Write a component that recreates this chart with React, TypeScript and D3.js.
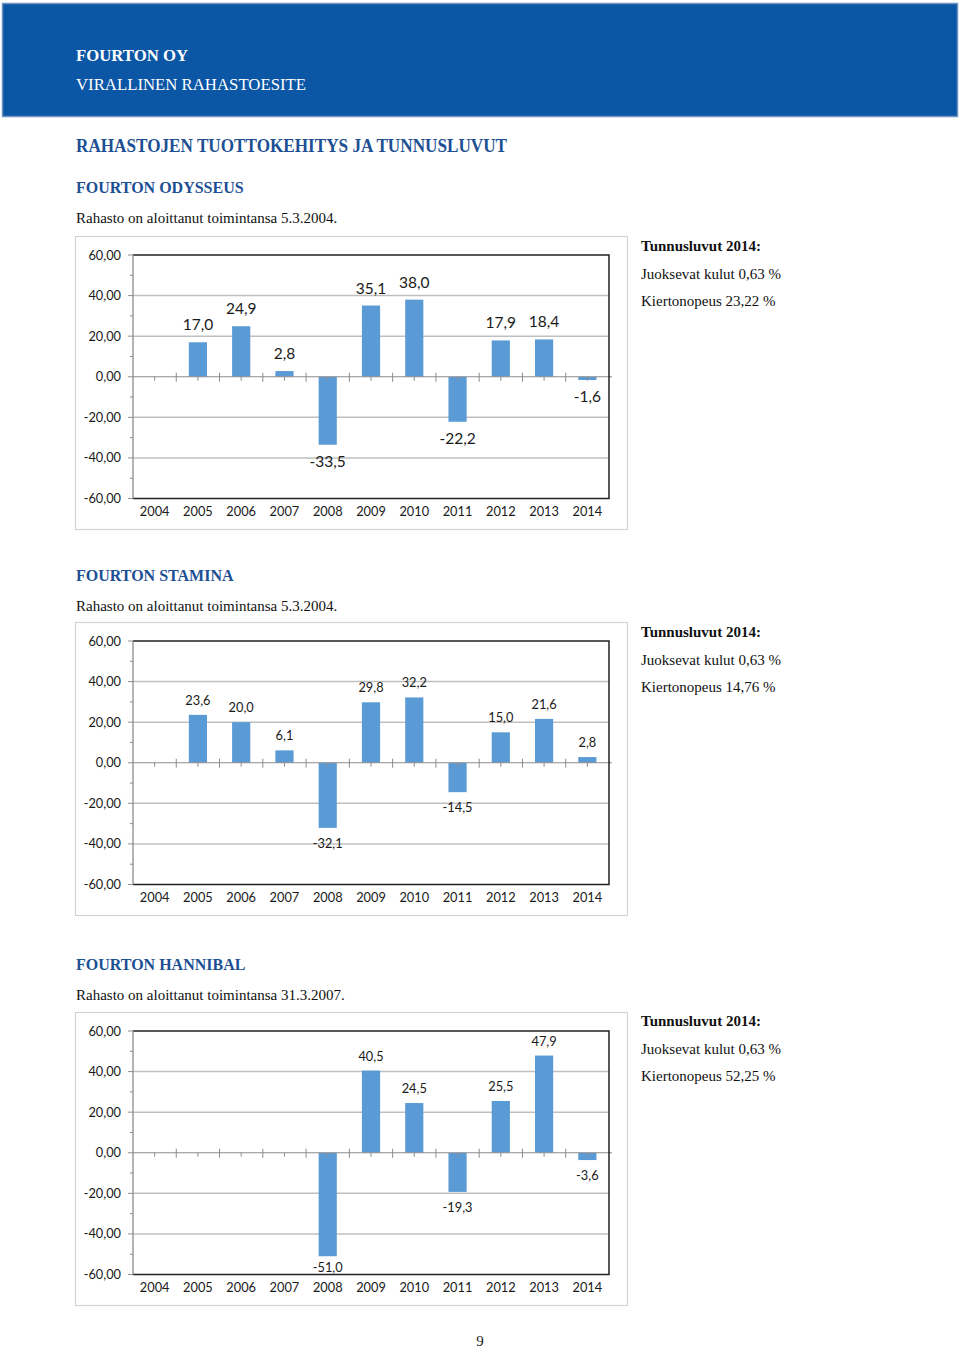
import React from 'react';
import * as d3 from 'd3';

const years = ['2004', '2005', '2006', '2007', '2008', '2009', '2010', '2011', '2012', '2013', '2014'];
const odysseusValues: (number | null)[] = [null, 17.0, 24.9, 2.8, -33.5, 35.1, 38.0, -22.2, 17.9, 18.4, -1.6];
const staminaValues: (number | null)[] = [null, 23.6, 20.0, 6.1, -32.1, 29.8, 32.2, -14.5, 15.0, 21.6, 2.8];
const hannibalValues: (number | null)[] = [null, null, null, null, -51.0, 40.5, 24.5, -19.3, 25.5, 47.9, -3.6];
const yTicks = [60, 40, 20, 0, -20, -40, -60];
const yMinorTicks = [50, 30, 10, -10, -30, -50];

const fundNames = ['FOURTON ODYSSEUS', 'FOURTON STAMINA', 'FOURTON HANNIBAL'];
const startDates = ['5.3.2004.', '5.3.2004.', '31.3.2007.'];
const runningCosts = ['0,63', '0,63', '0,63'];
const turnovers = ['23,22', '14,76', '52,25'];

const locale = d3.formatLocale({ decimal: ',', thousands: ' ', grouping: [3], currency: ['', ' €'], minus: '-' });
const fmtTick = locale.format('.2f');
const fmtVal = locale.format('.1f');

const BLUE = '#1c4f93';
const BAR = '#5b9bd5';
const SERIF = '"Liberation Serif", "Times New Roman", serif';
const SANS = 'Lato, Carlito, Calibri, "Noto Sans", sans-serif';

type ChartProps = {
  top: number;
  values: (number | null)[];
  labelSize: number;
  gapAbove: number;
  gapBelow: number;
};

function BarChart({ top, values, labelSize, gapAbove, gapBelow }: ChartProps) {
  const frameX = 75, frameW = 552, frameH = 293;
  const plotL = 133, plotR = 609;
  const plotT = top + 19, plotB = top + 262.5;
  const x = d3.scaleBand<string>().domain(years).range([plotL, plotR]).paddingInner(0.58).paddingOuter(0.29);
  const y = d3.scaleLinear().domain([-60, 60]).range([plotB, plotT]);
  const step = (plotR - plotL) / years.length;
  const y0 = y(0);
  return (
    <g>
      <rect x={frameX + 0.5} y={top + 0.5} width={frameW} height={frameH} fill="#fff" stroke="#d4d4d4" strokeWidth={1.2} />
      {yTicks.filter(t => t !== 0 && t !== 60 && t !== -60).map(t => (
        <line key={'g' + t} x1={plotL} x2={plotR} y1={y(t)} y2={y(t)} stroke="#bfbfbf" strokeWidth={1.5} />
      ))}
      {yTicks.map(t => (
        <line key={'mt' + t} x1={plotL - 5} x2={plotL} y1={y(t)} y2={y(t)} stroke="#8c8c8c" strokeWidth={1} />
      ))}
      {yMinorTicks.map(t => (
        <line key={'nt' + t} x1={plotL - 3} x2={plotL} y1={y(t)} y2={y(t)} stroke="#8c8c8c" strokeWidth={1} />
      ))}
      {yTicks.map(t => (
        <text key={'yl' + t} x={121} y={y(t) + 4.5} textAnchor="end" fontFamily={SANS} fontSize={12.8} fill="#1a1a1a">
          {fmtTick(t)}
        </text>
      ))}
      {values.map((v, i) => {
        if (v === null) return null;
        const bx = x(years[i])!;
        const yt = Math.min(y(v), y0);
        const h = Math.abs(y(v) - y0);
        return <rect key={'b' + i} x={bx} y={yt} width={x.bandwidth()} height={h} fill={BAR} />;
      })}
      <line x1={plotL} x2={plotR + 3} y1={y0} y2={y0} stroke="#8c8c8c" strokeWidth={1.2} />
      {years.map((yr, i) => {
        const bx = plotL + step * (i + 1);
        const cx = plotL + step * (i + 0.5);
        return (
          <g key={'xt' + yr}>
            {i < years.length - 1 && <line x1={bx} x2={bx} y1={y0 - 4} y2={y0 + 5} stroke="#8c8c8c" strokeWidth={1} />}
            <line x1={cx} x2={cx} y1={y0} y2={y0 + 4} stroke="#8c8c8c" strokeWidth={1} />
          </g>
        );
      })}
      <path d={`M${plotL},${plotT}H${plotR}V${plotB}H${plotL}`} fill="none" stroke="#222" strokeWidth={1.5} />
      <line x1={plotL} x2={plotL} y1={plotT} y2={plotB} stroke="#8c8c8c" strokeWidth={1.3} />
      {years.map(yr => (
        <text key={'xl' + yr} x={x(yr)! + x.bandwidth() / 2} y={plotB + 17} textAnchor="middle" fontFamily={SANS} fontSize={12.8} fill="#1a1a1a">
          {yr}
        </text>
      ))}
      {values.map((v, i) => {
        if (v === null) return null;
        const cx = x(years[i])! + x.bandwidth() / 2;
        let ly = v >= 0 ? y(v) - gapAbove : y(v) + gapBelow;
        ly = Math.min(ly, plotB - 3);
        return (
          <text key={'dl' + i} x={cx} y={ly} textAnchor="middle" fontFamily={SANS} fontSize={labelSize} fill="#1a1a1a">
            {fmtVal(v)}
          </text>
        );
      })}
    </g>
  );
}

function KeyFigures({ top, idx }: { top: number; idx: number }) {
  return (
    <g fontFamily={SERIF} fontSize={15} fill="#111">
      <text x={641} y={top} fontWeight="bold">Tunnusluvut 2014:</text>
      <text x={641} y={top + 27.5}>{`Juoksevat kulut ${runningCosts[idx]} %`}</text>
      <text x={641} y={top + 55}>{`Kiertonopeus ${turnovers[idx]} %`}</text>
    </g>
  );
}

function Section({ headY, idx }: { headY: number; idx: number }) {
  return (
    <g>
      <text x={76} y={headY} fontFamily={SERIF} fontSize={16} fontWeight="bold" fill={BLUE}>{fundNames[idx]}</text>
      <text x={76} y={headY + 30} fontFamily={SERIF} fontSize={15} fill="#111">{`Rahasto on aloittanut toimintansa ${startDates[idx]}`}</text>
    </g>
  );
}

export default function App() {
  return (
    <div style={{ position: 'absolute', left: 0, top: 0 }}>
      <svg width={960} height={1349} viewBox="0 0 960 1349" style={{ display: 'block', background: '#fff' }}>
        <rect x={2.5} y={3.5} width={955} height={113} fill="#0b56a5" stroke="#6f93c2" strokeWidth={1.5} />
        <text x={76} y={61} fontFamily={SERIF} fontSize={17} fontWeight="bold" fill="#fff" textLength={112} lengthAdjust="spacingAndGlyphs">FOURTON OY</text>
        <text x={76} y={90} fontFamily={SERIF} fontSize={17} fill="#fff" textLength={230} lengthAdjust="spacingAndGlyphs">VIRALLINEN RAHASTOESITE</text>
        <text x={76} y={152} fontFamily={SERIF} fontSize={18.5} fontWeight="bold" fill={BLUE} textLength={431} lengthAdjust="spacingAndGlyphs">RAHASTOJEN TUOTTOKEHITYS JA TUNNUSLUVUT</text>

        <Section headY={193} idx={0} />
        <BarChart top={236} values={odysseusValues} labelSize={15.5} gapAbove={12} gapBelow={22} />
        <KeyFigures top={251} idx={0} />

        <Section headY={581} idx={1} />
        <BarChart top={622} values={staminaValues} labelSize={12.8} gapAbove={10} gapBelow={20} />
        <KeyFigures top={637} idx={1} />

        <Section headY={970} idx={2} />
        <BarChart top={1012} values={hannibalValues} labelSize={12.8} gapAbove={10} gapBelow={20} />
        <KeyFigures top={1026} idx={2} />

        <text x={480} y={1346} textAnchor="middle" fontFamily={SERIF} fontSize={15} fill="#222">9</text>
      </svg>
    </div>
  );
}
